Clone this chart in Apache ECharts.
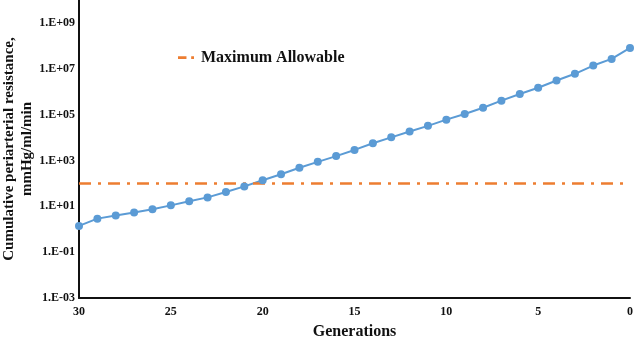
<!DOCTYPE html>
<html style="height: 100%">
<head>
    <script src="https://cdn.jsdelivr.net/npm/echarts@6.0.0/dist/echarts.min.js"></script>
</head>
<body style="height: 100%; margin: 0; background: #fff">
    <div id="main" style="width: 638px; height: 338px"></div>
    <script type="text/javascript">
    var generations = [30,29,28,27,26,25,24,23,22,21,20,19,18,17,16,15,14,13,12,11,10,9,8,7,6,5,4,3,2,1,0];
    var resistance = [1.4,2.9,4.0,5.4,7.4,11,16.6,24.5,42,74,138,251,479,871,1550,2880,5620,10200,18200,32400,
                      60300,107000,200000,407000,794000,1.48e6,3.09e6,6.03e6,1.38e7,2.69e7,8.1e7];
    var maxAllowable = 100;
    var maxRange = [30, 0];

    var font = 'Liberation Serif';
    var chart = echarts.init(document.getElementById('main'));

    // only odd powers of ten get a label, as in the original
    function sciLabel(v) {
        var e = Math.round(Math.log10(v));
        if (Math.abs(e) % 2 === 0) return '';
        var s = e < 0 ? '-' : '+';
        var a = Math.abs(e);
        return '1.E' + s + (a < 10 ? '0' + a : a);
    }

    var option = {
        backgroundColor: '#fff',
        animation: false,
        textStyle: { fontFamily: font },
        legend: {
            left: 173,
            top: 40,
            itemWidth: 16,
            itemHeight: 3,
            itemGap: 10,
            data: [{ name: 'Maximum Allowable', icon: 'path://M0,0H9V3H0Z M14,0H17V3H14Z' }],
            textStyle: { fontFamily: font, fontWeight: 'bold', fontSize: 16, color: '#111', padding: [0, 0, 0, 2] }
        },
        grid: { left: 79, right: 8, top: 0, bottom: 40, outerBoundsMode: 'none' },
        xAxis: {
            type: 'value',
            inverse: true,
            min: 0,
            max: 30,
            interval: 5,
            name: 'Generations',
            nameLocation: 'middle',
            nameGap: 21,
            nameMoveOverlap: false,
            nameTextStyle: { fontFamily: font, fontWeight: 'bold', fontSize: 16, color: '#111' },
            axisLine: { onZero: false, lineStyle: { color: '#111', width: 2 } },
            axisTick: { show: false },
            splitLine: { show: false },
            axisLabel: { fontFamily: font, fontWeight: 'bold', fontSize: 12, color: '#111', margin: 4 }
        },
        yAxis: {
            type: 'log',
            logBase: 10,
            min: 0.001,
            max: 1e10,
            interval: 1,
            name: 'Cumulative periarterial resistance,\nmmHg/ml/min',
            nameLocation: 'middle',
            nameGap: 43,
            nameMoveOverlap: false,
            nameTextStyle: { fontFamily: font, fontWeight: 'bold', fontSize: 15, color: '#111', lineHeight: 18 },
            axisLine: { show: true, onZero: false, lineStyle: { color: '#111', width: 2 } },
            axisTick: { show: false },
            splitLine: { show: false },
            axisLabel: {
                fontFamily: font, fontWeight: 'bold', fontSize: 12, color: '#111', margin: 4,
                formatter: sciLabel
            }
        },
        series: [
            {
                name: 'Resistance',
                type: 'line',
                data: generations.map(function (g, i) { return [g, resistance[i]]; }),
                symbol: 'circle',
                symbolSize: 8,
                itemStyle: { color: '#5B9BD5' },
                lineStyle: { color: '#5B9BD5', width: 2 }
            },
            {
                name: 'Maximum Allowable',
                type: 'line',
                data: maxRange.map(function (g) { return [g, maxAllowable]; }),
                symbol: 'none',
                itemStyle: { color: '#ED7D31' },
                lineStyle: { color: '#ED7D31', width: 2.5, type: [12, 7, 3, 7] }
            }
        ]
    };

    chart.setOption(option);
    </script>
</body>
</html>
